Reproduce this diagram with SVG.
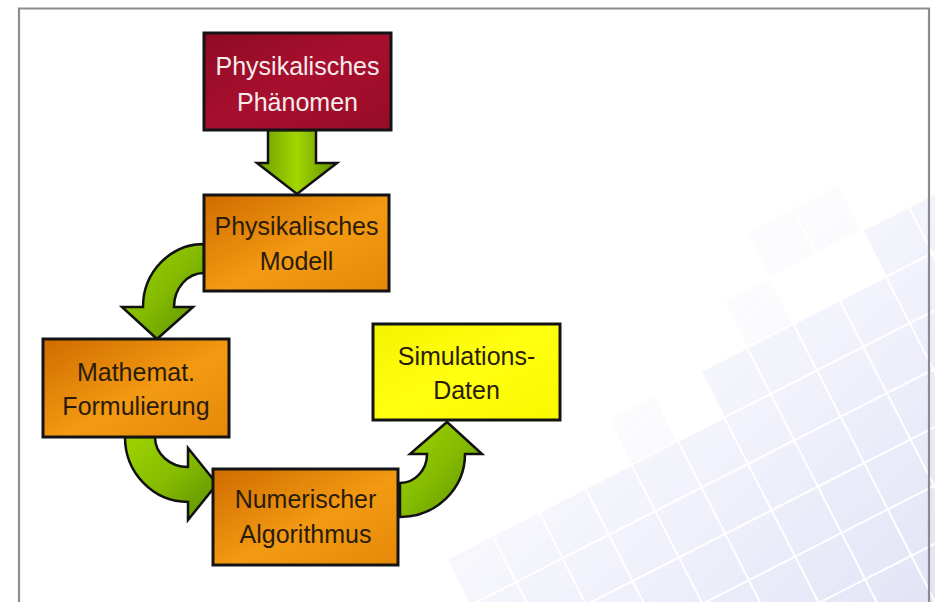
<svg xmlns="http://www.w3.org/2000/svg" width="935" height="602" viewBox="0 0 935 602">
  <defs>
    <style>
      .box { stroke: #141414; stroke-width: 3; }
      .lbl { font-family: "Liberation Sans", Arial, sans-serif; font-size: 25px; text-anchor: middle; fill: #2a1c0c; }
      .lbl-w { fill: #f6ecec; }
      .arrow { stroke: #111; stroke-width: 2.5; stroke-linejoin: miter; }
    </style>
    <linearGradient id="gRed" x1="0" y1="0" x2="1" y2="1">
      <stop offset="0" stop-color="#8e0b24"/>
      <stop offset="0.5" stop-color="#a80f2e"/>
      <stop offset="1" stop-color="#960c27"/>
    </linearGradient>
    <linearGradient id="gOrange" x1="0" y1="0" x2="1" y2="1">
      <stop offset="0" stop-color="#cf6c00"/>
      <stop offset="0.55" stop-color="#f39a12"/>
      <stop offset="1" stop-color="#e58808"/>
    </linearGradient>
    <linearGradient id="gYellow" x1="0" y1="0" x2="1" y2="1">
      <stop offset="0" stop-color="#f4f400"/>
      <stop offset="0.5" stop-color="#ffff10"/>
      <stop offset="1" stop-color="#f8f800"/>
    </linearGradient>
    <linearGradient id="gGreen" x1="0" y1="0" x2="1" y2="1">
      <stop offset="0" stop-color="#9fd400"/>
      <stop offset="0.5" stop-color="#84bb00"/>
      <stop offset="1" stop-color="#5a8c00"/>
    </linearGradient>
    <linearGradient id="gGreenV" x1="0" y1="0" x2="1" y2="0">
      <stop offset="0" stop-color="#6a9c00"/>
      <stop offset="0.5" stop-color="#a2d600"/>
      <stop offset="1" stop-color="#5e8e00"/>
    </linearGradient>
    <pattern id="tiles" width="52" height="52" patternUnits="userSpaceOnUse">
      <rect x="1" y="1" width="50" height="50" fill="#e2e4f6"/>
    </pattern>
    <linearGradient id="fade" gradientUnits="userSpaceOnUse" x1="640" y1="300" x2="935" y2="602">
      <stop offset="0" stop-color="#fff" stop-opacity="0.15"/>
      <stop offset="1" stop-color="#fff" stop-opacity="1"/>
    </linearGradient>
    <mask id="fadeMask" maskUnits="userSpaceOnUse" x="0" y="0" width="935" height="602">
      <rect x="0" y="0" width="935" height="602" fill="url(#fade)"/>
    </mask>
  </defs>

  <rect x="0" y="0" width="935" height="602" fill="#ffffff"/>

  <!-- background tiles -->
  <g id="background" mask="url(#fadeMask)">
    <g transform="translate(935,602) rotate(-27)">
      <path d="M-520,52 V-208 H-416 V-260 H-104 V-312 H104 V-364 H260 V52 Z" fill="url(#tiles)"/>
      <g fill="#e2e4f6" opacity="0.45">
        <rect x="-51" y="-363" width="50" height="50"/>
        <rect x="1" y="-415" width="50" height="50"/>
        <rect x="53" y="-415" width="50" height="50"/>
        <rect x="-207" y="-311" width="50" height="50"/>
        <rect x="-363" y="-259" width="50" height="50"/>
      </g>
    </g>
  </g>

  <!-- frame -->
  <path d="M19,604 V8.5 H929 V604" fill="none" stroke="#8c8c8c" stroke-width="2.2"/>

  <!-- connectors -->
  <g id="connectors">
    <path class="arrow" fill="url(#gGreenV)" d="M268,130 H316 V163 H337 L297,194 L257,163 H268 Z"/>
    <path class="arrow" fill="url(#gGreen)" d="M204,244 A61,63 0 0 0 143,307 L122,307 L157,339 L193,307 L174,307 A30,34 0 0 1 204,273 Z"/>
    <path class="arrow" fill="url(#gGreen)" d="M125,437 A63,65 0 0 0 188,502 L188,520 L217,484 L188,448 L188,467 A33,30 0 0 1 155,437 Z"/>
    <path class="arrow" fill="url(#gGreen)" d="M400,517 A65,63 0 0 0 465,454 L482,454 L447,422 L410,454 L427,454 A27,29 0 0 1 400,483 Z"/>
  </g>

  <!-- nodes -->
  <g id="phaenomen">
    <rect class="box" x="204" y="33" width="187" height="97" fill="url(#gRed)"/>
    <text class="lbl lbl-w" x="297.5" y="75">Physikalisches</text>
    <text class="lbl lbl-w" x="297.5" y="111">Phänomen</text>
  </g>
  <g id="modell">
    <rect class="box" x="204" y="195" width="185" height="96" fill="url(#gOrange)"/>
    <text class="lbl" x="296.5" y="235">Physikalisches</text>
    <text class="lbl" x="296.5" y="270">Modell</text>
  </g>
  <g id="formulierung">
    <rect class="box" x="43" y="339" width="186" height="98" fill="url(#gOrange)"/>
    <text class="lbl" x="136" y="381">Mathemat.</text>
    <text class="lbl" x="136" y="415">Formulierung</text>
  </g>
  <g id="algorithmus">
    <rect class="box" x="213" y="469" width="185" height="96" fill="url(#gOrange)"/>
    <text class="lbl" x="305.5" y="508">Numerischer</text>
    <text class="lbl" x="305.5" y="543">Algorithmus</text>
  </g>
  <g id="simulationsdaten">
    <rect class="box" x="373" y="324" width="187" height="96" fill="url(#gYellow)"/>
    <text class="lbl" x="466.5" y="365">Simulations-</text>
    <text class="lbl" x="466.5" y="399">Daten</text>
  </g>
</svg>
